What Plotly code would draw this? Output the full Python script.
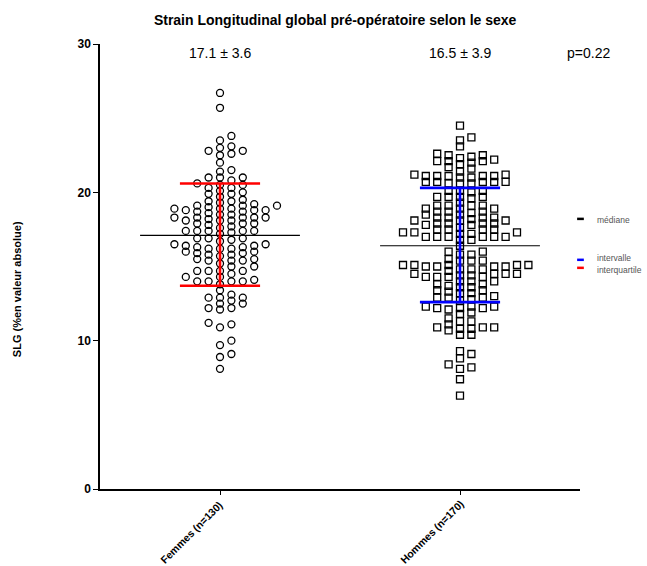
import numpy as np
import plotly.graph_objects as go

# ---- data -------------------------------------------------------------
groups = ["Femmes (n=130)", "Hommes (n=170)"]

femmes = [
    26.7, 25.7, 23.5, 23.1, 22.5, 22.0, 21.5, 21.0, 20.1, 19.7, 19.3, 18.9, 18.5, 18.1,
    23.8, 23.0, 22.6, 21.0, 20.5, 19.9, 19.4, 18.9, 18.6, 18.3, 17.8,
    20.6, 20.3, 19.9, 19.5, 19.1, 18.8, 18.5,
    22.8, 21.0, 20.5, 20.0, 19.0, 18.7, 18.3,
    22.8, 21.4, 20.8, 20.3, 18.8, 17.9,
    19.4, 18.9, 17.9,
    19.1, 17.9,
    19.1, 18.7, 18.3,
    19.2, 18.8, 18.1,
    18.2, 18.3, 18.1, 18.3,
    17.6, 16.3,
    17.4, 16.5, 16.0, 15.4, 14.0,
    17.4, 16.9, 16.4, 15.9, 15.5, 15.0, 14.7, 14.3, 13.1, 12.5,
    17.4, 16.9, 16.5, 16.2, 15.7, 15.2, 14.7, 14.0, 12.9, 12.2, 10.9, 9.1,
    17.4, 16.9, 16.4, 15.8, 15.4, 14.7, 14.3, 13.8, 12.9, 12.1, 11.1, 9.7, 8.1,
    17.7, 17.2, 16.7, 16.2, 15.8, 15.4, 15.0, 14.5, 14.0, 12.7, 12.2, 11.2, 10.0, 8.9,
    17.3, 16.8, 16.3, 15.9, 15.5, 14.7, 14.1, 13.4, 12.9, 12.5,
    17.4, 16.0, 14.0,
    16.2,
]

hommes = [
    24.5, 23.5, 22.5, 21.1, 20.7, 20.1, 19.6, 19.1, 18.7, 18.3, 17.9, 17.5, 17.2, 16.8, 16.4,
    23.7, 23.1, 22.5, 22.2, 21.9, 21.1, 20.7, 20.1, 19.7, 19.3, 18.9, 17.9, 17.3, 15.8,
    22.1, 21.4, 21.1, 20.7, 20.1, 19.7, 18.5, 17.8, 17.5, 17.2, 16.8, 16.0,
    22.6, 22.0, 21.0, 20.6, 19.7, 18.9, 17.8, 17.0, 15.8,
    22.4, 22.1, 21.1, 20.6, 20.0, 19.7, 18.7, 18.2, 17.5, 17.0, 16.0,
    22.3, 21.2, 20.7, 18.9, 18.6, 18.3, 17.6, 17.0,
    22.1, 21.7, 21.0, 20.6, 19.1, 18.7, 18.1, 17.0,
    21.1, 20.7, 19.1, 18.3, 17.9, 17.3,
    21.6, 21.2, 19.1, 18.3, 17.9, 17.5, 17.0,
    18.1, 17.3,
    18.5, 18.1, 17.0,
    15.1, 14.5,
    15.4, 14.8,
    15.1, 14.8, 14.3, 13.8, 13.2, 12.8, 12.2, 10.9,
    15.0, 14.3, 13.7, 13.2, 12.3, 11.3,
    15.4, 15.0, 14.4, 14.0, 13.6, 12.7, 12.3, 11.9, 11.1, 10.7, 9.1, 8.1,
    15.4, 14.8, 14.3, 13.8, 13.4, 12.9, 12.3, 11.8, 11.3, 10.8, 10.4, 9.3, 8.8, 8.4, 7.4, 6.3,
    15.1, 14.7, 14.3, 13.4, 12.9, 12.1, 11.5, 10.8, 10.4, 8.2,
    15.1, 14.4, 14.0, 13.3, 12.9, 12.2, 10.9,
    15.5, 15.0, 14.5, 14.0, 13.6, 13.0, 12.2, 10.9,
    15.0, 14.5,
    15.1, 14.5,
]

medians = [17.1, 16.4]
q1 = [13.7, 12.6]
q3 = [20.6, 20.3]
mean_sd = ["17.1 ± 3.6", "16.5 ± 3.9"]
p_text = "p=0.22"


def swarm_offsets(values, step, min_gap):
    """Greedy dot-plot layout: each point goes to the nearest column
    (0, +1, -1, +2, -2, ...) with no neighbour closer than min_gap."""
    vals = np.asarray(values, dtype=float)
    placed = {}
    cols = np.zeros(len(vals))
    for i in np.argsort(vals, kind="stable"):
        v = vals[i]
        k = 0
        while True:
            for c in ([0] if k == 0 else [k, -k]):
                if all(abs(v - pv) >= min_gap for pv in placed.get(c, [])):
                    placed.setdefault(c, []).append(v)
                    cols[i] = c
                    break
            else:
                k += 1
                continue
            break
    return cols * step


STEP = 0.0475
GAP = 0.38
pos = [1, 2]

fig = go.Figure()

fig.add_trace(go.Scatter(
    x=pos[0] + swarm_offsets(femmes, STEP, GAP), y=femmes, mode="markers",
    marker=dict(symbol="circle-open", size=7, color="black", line=dict(width=1.3)),
    hoverinfo="y", showlegend=False))
fig.add_trace(go.Scatter(
    x=pos[1] + swarm_offsets(hommes, STEP, GAP), y=hommes, mode="markers",
    marker=dict(symbol="square-open", size=7, color="black", line=dict(width=1.3)),
    hoverinfo="y", showlegend=False))

iqr_colors = ["#ff0000", "#0000ff"]
for i, p in enumerate(pos):
    # median line
    fig.add_trace(go.Scatter(x=[p - 0.333, p + 0.333], y=[medians[i]] * 2, mode="lines",
                             line=dict(color="black", width=1.2), hoverinfo="skip", showlegend=False))
    # interquartile range: whisker + caps
    fig.add_trace(go.Scatter(
        x=[p - 0.167, p + 0.167, None, p, p, None, p - 0.167, p + 0.167],
        y=[q3[i], q3[i], None, q3[i], q1[i], None, q1[i], q1[i]],
        mode="lines", line=dict(color=iqr_colors[i], width=2.6),
        hoverinfo="skip", showlegend=False))

annotations = []
for i, p in enumerate(pos):
    annotations.append(dict(x=p, xref="x", y=0.980, yref="paper", text=mean_sd[i],
                            showarrow=False, font=dict(size=14, color="black"),
                            xanchor="center", yanchor="middle"))
    # slanted category label ending just under its tick
    annotations.append(dict(x=p - 0.118, xref="x", y=-0.097, yref="paper",
                            text=f"<b>{groups[i]}</b>", textangle=-45,
                            showarrow=False, font=dict(size=10.5, color="black"),
                            xanchor="center", yanchor="middle", borderpad=0))
annotations.append(dict(x=1.017, xref="paper", y=0.980, yref="paper", text=p_text,
                        showarrow=False, font=dict(size=14, color="black"),
                        xanchor="center", yanchor="middle"))
annotations.append(dict(x=-0.173, xref="paper", y=0.449, yref="paper",
                        text="<b>SLG (%en valeur absolue)</b>", textangle=-90,
                        showarrow=False, font=dict(size=11, color="black"),
                        xanchor="center", yanchor="middle"))

# hand-built legend: (label, line y, text y, colour)
legend_items = [("médiane", 0.607, 0.605, "black"),
                ("intervalle", 0.515, 0.519, "#0000ff"),
                ("interquartile", 0.497, 0.493, "#ff0000")]
shapes = []
for label, ly, ty, col in legend_items:
    shapes.append(dict(type="line", xref="paper", yref="paper", x0=0.994, x1=1.008,
                       y0=ly, y1=ly, line=dict(color=col, width=2.5)))
    annotations.append(dict(x=1.033, xref="paper", y=ty, yref="paper", text=label,
                            showarrow=False, font=dict(size=8.5, color="#555555"),
                            xanchor="left", yanchor="middle", borderpad=0))

fig.update_layout(
    width=647, height=566,
    margin=dict(l=100, r=67, t=44, b=77),
    paper_bgcolor="white", plot_bgcolor="white",
    font=dict(family="Liberation Sans, Arial, sans-serif", color="black"),
    title=dict(text="<b>Strain Longitudinal global pré-opératoire selon le sexe</b>",
               x=0.518, xanchor="center", y=0.964, yanchor="middle", yref="container",
               font=dict(size=14, color="black")),
    annotations=annotations,
    shapes=shapes,
    showlegend=False,
)

fig.update_xaxes(
    range=[0.5, 2.5], tickvals=pos, showticklabels=False,
    ticks="outside", ticklen=4, tickcolor="black", tickwidth=1.3,
    showline=True, linecolor="black", linewidth=1.5, showgrid=False, zeroline=False,
    automargin=False,
)
fig.update_yaxes(
    range=[0, 30], tickvals=[0, 10, 20, 30],
    ticktext=["<b>0</b>", "<b>10</b>", "<b>20</b>", "<b>30</b>"],
    ticks="outside", ticklen=5, tickcolor="black", tickwidth=1.3,
    showline=True, linecolor="black", linewidth=1.5, showgrid=False, zeroline=False,
    tickfont=dict(size=12, color="black"), automargin=False,
)

fig.write_html("out.html")
